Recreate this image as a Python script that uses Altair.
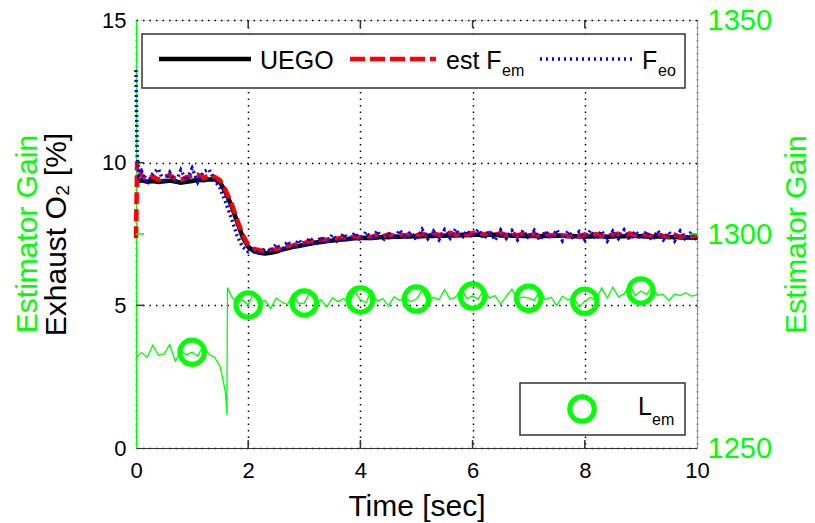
import altair as alt
import pandas as pd

W, H = 561, 428
FONT = "Liberation Sans"
GREEN = "#00ff00"

# ---------------- data ----------------
t_grid = [round(i * 0.1, 1) for i in range(101)]

uego = [9.35,
        9.38, 9.33, 9.36, 9.32, 9.35, 9.37, 9.34, 9.30, 9.33, 9.36, 9.40, 9.38, 9.41, 9.42,
        9.30, 8.95, 8.50, 7.95, 7.40, 7.05, 6.90, 6.84, 6.82, 6.84, 6.88, 6.95, 7.00, 7.05, 7.08,
        7.12, 7.16, 7.20, 7.22, 7.25, 7.27, 7.30, 7.31, 7.33, 7.35, 7.36,
        7.37, 7.36, 7.38, 7.40, 7.39, 7.41, 7.40, 7.42, 7.41, 7.43,
        7.42, 7.44, 7.43, 7.45, 7.44, 7.46, 7.45, 7.47, 7.46, 7.48,
        7.47, 7.46, 7.48, 7.47, 7.45, 7.46, 7.44, 7.45, 7.43, 7.44,
        7.43, 7.42, 7.44, 7.43, 7.45, 7.44, 7.42, 7.43, 7.41, 7.42,
        7.41, 7.43, 7.42, 7.40, 7.41, 7.43, 7.42, 7.44, 7.43, 7.42,
        7.41, 7.40, 7.42, 7.41, 7.39, 7.40, 7.38, 7.39, 7.37, 7.38]

est_t = [0.0, 0.02] + t_grid[1:]
est_fem = [7.35, 10.05,
           9.55, 9.42, 9.52, 9.40, 9.50, 9.56, 9.44, 9.40, 9.49, 9.53, 9.58, 9.46, 9.56, 9.50,
           9.38, 9.02, 8.58, 8.02, 7.48, 7.12, 6.98, 6.93, 6.90, 6.95, 6.97, 7.02, 7.08, 7.10, 7.16,
           7.18, 7.25, 7.23, 7.32, 7.29, 7.36, 7.34, 7.40, 7.35, 7.43, 7.38,
           7.45, 7.39, 7.47, 7.42, 7.49, 7.43, 7.50, 7.44, 7.52, 7.45,
           7.51, 7.45, 7.53, 7.46, 7.52, 7.54, 7.47, 7.55, 7.48, 7.54,
           7.56, 7.48, 7.54, 7.47, 7.53, 7.46, 7.52, 7.45, 7.51, 7.44,
           7.50, 7.43, 7.51, 7.44, 7.52, 7.45, 7.43, 7.50, 7.42, 7.49,
           7.43, 7.50, 7.44, 7.42, 7.49, 7.51, 7.44, 7.52, 7.45, 7.43,
           7.49, 7.42, 7.50, 7.43, 7.41, 7.48, 7.40, 7.47, 7.41, 7.45]

feo_t = [0.0, 0.02, 0.05] + t_grid[1:]
feo = [13.25, 10.3, 9.55,
       9.70, 9.25, 9.62, 9.78, 9.30, 9.66, 9.28, 9.74, 9.38, 9.80, 9.32, 9.68, 9.76, 9.40,
       9.10, 8.60, 8.05, 7.45, 7.05, 6.88, 6.95, 6.80, 6.98, 6.88, 7.15, 6.90, 7.25, 6.98, 7.30,
       7.05, 7.38, 7.10, 7.40, 7.18, 7.48, 7.20, 7.52, 7.25, 7.55, 7.28,
       7.58, 7.30, 7.62, 7.26, 7.55, 7.32, 7.64, 7.35, 7.58, 7.28,
       7.66, 7.34, 7.60, 7.30, 7.65, 7.36, 7.68, 7.33, 7.62, 7.38,
       7.66, 7.32, 7.60, 7.28, 7.64, 7.35, 7.62, 7.30, 7.63, 7.34,
       7.62, 7.28, 7.60, 7.33, 7.65, 7.27, 7.61, 7.32, 7.58, 7.30,
       7.63, 7.31, 7.62, 7.26, 7.60, 7.34, 7.64, 7.29, 7.61, 7.33,
       7.59, 7.27, 7.62, 7.30, 7.57, 7.26, 7.60, 7.28, 7.58, 7.29]

gain_t = t_grid[:16] + [1.55, 1.6, 1.62, 1.63, 1.7] + t_grid[18:]
gain = [1271.0, 1272.3, 1271.2, 1274.0, 1271.6, 1272.0, 1274.2, 1270.3, 1272.5, 1271.8,
        1272.4, 1271.5, 1274.0, 1271.9, 1271.2, 1269.0,
        1266.0, 1262.5, 1257.8, 1287.5, 1285.5,
        1283.8, 1284.6,
        1283.4, 1286.5, 1283.9, 1284.5, 1282.6, 1285.0, 1284.1, 1283.5, 1286.0, 1283.7,
        1283.9, 1286.4, 1284.0, 1284.6, 1282.9, 1285.1, 1284.2, 1284.9, 1283.9, 1286.6,
        1284.6, 1284.0, 1286.8, 1284.3, 1284.9, 1283.2, 1285.3, 1284.5, 1285.0, 1284.2,
        1284.8, 1286.9, 1284.4, 1285.2, 1284.6, 1287.0, 1284.7, 1285.3, 1287.2, 1284.9,
        1285.5, 1284.8, 1287.0, 1285.0, 1285.6, 1283.6, 1285.4, 1287.1, 1284.9, 1285.3,
        1285.0, 1284.5, 1286.8, 1284.7, 1285.2, 1283.3, 1285.5, 1284.6, 1285.1, 1283.0,
        1284.3, 1285.2, 1284.5, 1287.4, 1285.0, 1287.6, 1285.3, 1286.0, 1288.0, 1285.6,
        1286.7, 1285.9, 1287.6, 1285.7, 1285.9, 1284.4, 1286.0, 1285.6, 1286.3, 1285.5,
        1285.8]

marker_t = [1, 2, 3, 4, 5, 6, 7, 8, 9]
marker_gain = [1272.4, 1283.4, 1283.9, 1284.6, 1284.8, 1285.5, 1285.0, 1284.3, 1286.7]

x_ticks = [0, 2, 4, 6, 8, 10]
left_ticks = [0, 5, 10, 15]
right_ticks = [1250, 1300, 1350]

# ---------------- encodings ----------------
x_axis = alt.Axis(values=x_ticks, title="Time [sec]", labelFontSize=22, labelColor="black",
                  labelPadding=12, ticks=False, tickSize=0, domainColor="#333333",
                  grid=True, gridDash=[1.5, 5], gridColor="black", gridWidth=1.5, gridOpacity=1,
                  titleFontSize=30, titleColor="black", titleY=67, titleBaseline="alphabetic",
                  titleFontWeight="normal", titleFont=FONT, labelFont=FONT,
                  labelFlush=False)
X = alt.X("t:Q", scale=alt.Scale(domain=[0, 10], nice=False, zero=False), axis=x_axis)

left_axis = alt.Axis(values=left_ticks, title="Exhaust O₂ [%]", labelFontSize=22,
                     labelColor="black", labelPadding=10, ticks=False, tickSize=0,
                     domainColor=GREEN, grid=True, gridDash=[1.5, 5], gridColor="black",
                     gridWidth=1.5, gridOpacity=1, titleFontSize=30, titleColor="black",
                     titleAngle=270, titleX=-80, titleY=H / 2, titleAlign="center",
                     titleBaseline="middle", titleFontWeight="normal", titleFont=FONT,
                     labelFont=FONT, labelFlush=False)
YL = alt.Y("v:Q", scale=alt.Scale(domain=[0, 15], nice=False, zero=False), axis=left_axis)

right_axis = alt.Axis(orient="right", values=right_ticks, format="d", title="Estimator Gain",
                      labelFontSize=29, labelColor=GREEN, labelPadding=10, ticks=False,
                      tickSize=0, domainColor=GREEN, grid=False, titleFontSize=30,
                      titleColor=GREEN, titleAngle=270, titleX=99, titleY=H / 2,
                      titleAlign="center", titleBaseline="middle", titleFontWeight="normal",
                      titleFont=FONT, labelFont=FONT, labelFlush=False)
YR = alt.Y("g:Q", scale=alt.Scale(domain=[1250, 1350], nice=False, zero=False), axis=right_axis)

# ---------------- left group ----------------
df_u = pd.DataFrame({"t": t_grid, "v": uego})
df_e = pd.DataFrame({"t": est_t, "v": est_fem})
df_f = pd.DataFrame({"t": feo_t, "v": feo})

l_u = alt.Chart(df_u).mark_line(color="black", strokeWidth=4.5).encode(x=X, y=YL)
l_e = alt.Chart(df_e).mark_line(color="#ff0000", strokeWidth=4.5, strokeDash=[12, 5]).encode(x=X, y=YL)
l_f = alt.Chart(df_f).mark_line(color="#0000ff", strokeWidth=3.5, strokeDash=[2, 3]).encode(x=X, y=YL)

df_xt = pd.DataFrame({"t": x_ticks[1:-1]})
xt_bot = alt.Chart(df_xt).mark_rule(color="#333333", strokeWidth=1.5).encode(
    x=X, y=alt.value(H), y2=alt.value(H - 8))
xt_top = alt.Chart(df_xt).mark_rule(color="#333333", strokeWidth=1.5).encode(
    x=X, y=alt.value(0), y2=alt.value(8))
df_yt = pd.DataFrame({"v": left_ticks[1:-1]})
yt_left = alt.Chart(df_yt).mark_rule(color="#333333", strokeWidth=1.5).encode(
    y=YL, x=alt.value(0), x2=alt.value(8))

left_group = alt.layer(l_u, l_e, l_f, xt_bot, xt_top, yt_left)

# ---------------- right group ----------------
df_g = pd.DataFrame({"t": gain_t, "g": gain})
df_m = pd.DataFrame({"t": marker_t, "g": marker_gain})
df_rt = pd.DataFrame({"g": right_ticks[1:-1]})

g_line = alt.Chart(df_g).mark_line(color=GREEN, strokeWidth=1.3).encode(x=X, y=YR)
g_pts = alt.Chart(df_m).mark_point(shape="circle", size=600, strokeWidth=5, color=GREEN,
                                   filled=False, opacity=1).encode(x=X, y=YR)
rt_right = alt.Chart(df_rt).mark_rule(color=GREEN, strokeWidth=1.5).encode(
    y=YR, x=alt.value(W - 8), x2=alt.value(W))
rt_left = alt.Chart(df_rt).mark_rule(color=GREEN, strokeWidth=1.5).encode(
    y=YR, x=alt.value(0), x2=alt.value(8))

right_group = alt.layer(g_line, g_pts, rt_right, rt_left)

# ---------------- legends & extra title ----------------
one = pd.DataFrame({"a": [0]})


def txt(s, x, y, size, color="black", angle=0, align="left", baseline="alphabetic"):
    return alt.Chart(one).mark_text(text=s, font=FONT, fontSize=size, color=color, angle=angle,
                                    align=align, baseline=baseline).encode(
        x=alt.value(x), y=alt.value(y))


box_top = alt.Chart(one).mark_rect(fill="white", stroke="#333333", strokeWidth=1.5).encode(
    x=alt.value(6), x2=alt.value(549), y=alt.value(14), y2=alt.value(68))
leg_u = alt.Chart(one).mark_rule(color="black", strokeWidth=4.5).encode(
    x=alt.value(23), x2=alt.value(115), y=alt.value(39))
leg_e = alt.Chart(one).mark_rule(color="#ff0000", strokeWidth=4.5, strokeDash=[15, 5]).encode(
    x=alt.value(214), x2=alt.value(300), y=alt.value(39))
leg_f = alt.Chart(one).mark_rule(color="#0000ff", strokeWidth=3.5, strokeDash=[2, 4]).encode(
    x=alt.value(404), x2=alt.value(497), y=alt.value(39))

box_bot = alt.Chart(one).mark_rect(fill="white", stroke="#333333", strokeWidth=1.5).encode(
    x=alt.value(384), x2=alt.value(549), y=alt.value(363), y2=alt.value(415))
leg_l = alt.Chart(one).mark_point(shape="circle", size=600, strokeWidth=5, color=GREEN,
                                  filled=False, opacity=1).encode(x=alt.value(446), y=alt.value(389))

legend_group = alt.layer(
    box_top, leg_u, leg_e, leg_f,
    txt("UEGO", 124, 49, 25),
    txt("est F", 310, 49, 25),
    txt("em", 366, 56, 16),
    txt("F", 506, 49, 25),
    txt("eo", 522, 56, 16),
    box_bot, leg_l,
    txt("L", 502, 395, 25),
    txt("em", 516, 405, 16),
    txt("Estimator Gain", -108, H / 2, 30, color=GREEN, angle=270, align="center",
        baseline="middle"),
)

chart = alt.layer(left_group, right_group, legend_group).resolve_scale(
    y="independent"
).properties(
    width=W, height=H,
    autosize=alt.AutoSizeParams(type="none"),
    padding={"left": 136, "top": 20, "right": 815 - 136 - W, "bottom": 523 - 20 - H},
).configure_view(
    stroke="#333333", strokeWidth=1.5
).configure_axis(
    labelFont=FONT, titleFont=FONT, titleFontWeight="normal", domainWidth=1.5
).configure(background="white")

chart.save("out.html", embed_options={"renderer": "svg", "actions": False})
